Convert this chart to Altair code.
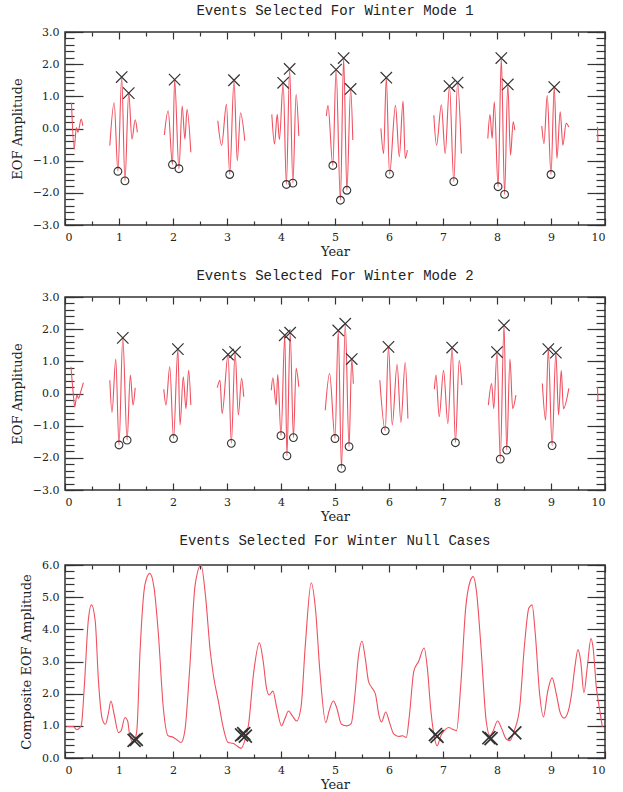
import altair as alt
import pandas as pd

# ---------------- data ----------------
# Mode 1: wave packets, (year, amplitude) turning points per packet
MODE1_PACKETS = [
    [(0.12, 0.80), (0.17, -0.64), (0.21, 0.03), (0.24, -0.12), (0.30, 0.29), (0.33, 0.08)],
    [(0.83, -0.53), (0.91, 0.80), (0.98, -1.33), (1.05, 1.60), (1.11, -1.63), (1.18, 1.10),
     (1.24, -0.33), (1.30, 0.27), (1.34, -0.12)],
    [(1.84, -0.20), (1.91, 0.55), (1.99, -1.12), (2.03, 1.52), (2.11, -1.25), (2.17, 0.70),
     (2.22, -0.33), (2.26, 0.60), (2.33, -0.74)],
    [(2.83, 0.24), (2.90, -0.53), (2.99, 0.75), (3.05, -1.43), (3.13, 1.50), (3.19, -1.00),
     (3.25, 0.49), (3.33, -0.38)],
    [(3.83, 0.44), (3.88, -0.48), (3.93, 0.44), (3.97, -0.35), (4.04, 1.42), (4.10, -1.74),
     (4.16, 1.85), (4.22, -1.70), (4.28, 1.06), (4.33, -0.23)],
    [(4.84, 0.39), (4.87, 0.72), (4.96, -1.15), (5.02, 1.83), (5.10, -2.23), (5.16, 2.19),
     (5.22, -1.92), (5.29, 1.23), (5.33, -0.36)],
    [(5.85, 0.00), (5.90, -0.78), (5.95, 1.58), (6.01, -1.42), (6.12, 0.72), (6.19, -0.88),
     (6.26, 0.85), (6.30, -0.93), (6.34, -0.67)],
    [(6.83, 0.41), (6.88, -0.52), (6.97, 0.74), (7.04, -0.78), (7.12, 1.32), (7.20, -1.65),
     (7.27, 1.43), (7.34, -0.78)],
    [(7.83, -0.31), (7.87, 0.43), (7.91, -0.31), (7.95, 0.83), (8.02, -1.81), (8.08, 2.19),
     (8.14, -2.05), (8.20, 1.37), (8.25, -0.83), (8.30, 0.21), (8.33, -0.05)],
    [(8.83, 0.08), (8.87, -0.47), (8.93, 1.03), (9.00, -1.43), (9.06, 1.29), (9.11, -0.93),
     (9.17, 0.52), (9.22, -0.52), (9.28, 0.16), (9.33, 0.05)],
    [(9.86, 0.05), (9.87, -0.40)],
]
MODE1_X_YEAR = [1.05, 1.18, 2.03, 3.13, 4.04, 4.16, 5.02, 5.16, 5.29, 5.95, 7.12, 7.27, 8.08, 8.20, 9.06]
MODE1_X_VAL = [1.60, 1.10, 1.52, 1.50, 1.42, 1.85, 1.83, 2.19, 1.23, 1.58, 1.32, 1.43, 2.19, 1.37, 1.29]
MODE1_O_YEAR = [0.98, 1.11, 1.99, 2.11, 3.05, 4.10, 4.22, 4.96, 5.10, 5.22, 6.01, 7.20, 8.02, 8.14, 9.00]
MODE1_O_VAL = [-1.33, -1.63, -1.12, -1.25, -1.43, -1.74, -1.70, -1.15, -2.23, -1.92, -1.42, -1.65, -1.81, -2.05, -1.43]

# Mode 2
MODE2_PACKETS = [
    [(0.11, 0.83), (0.15, 0.05), (0.18, -0.42), (0.22, -0.05), (0.25, -0.15), (0.29, 0.05), (0.34, 0.34)],
    [(0.83, 0.41), (0.87, -0.59), (0.94, 1.07), (1.00, -1.60), (1.07, 1.73), (1.15, -1.45),
     (1.21, 0.57), (1.26, -0.36), (1.30, 0.18)],
    [(1.83, 0.13), (1.87, -0.36), (1.94, 0.83), (2.01, -1.40), (2.09, 1.38), (2.13, -0.98),
     (2.19, 0.52), (2.24, -0.47), (2.29, 0.72), (2.33, -0.36)],
    [(2.82, 0.18), (2.87, 0.41), (2.91, -0.62), (3.02, 1.21), (3.08, -1.55), (3.15, 1.29),
     (3.21, -0.67), (3.27, 0.47), (3.31, -0.10)],
    [(3.82, 0.10), (3.85, 0.49), (3.91, -0.36), (3.94, 0.59), (4.00, -1.31), (4.07, 1.81),
     (4.11, -1.94), (4.17, 1.89), (4.23, -1.37), (4.28, 0.78), (4.33, 0.21)],
    [(4.82, -0.52), (4.90, 0.62), (5.00, -1.40), (5.06, 1.96), (5.12, -2.33), (5.19, 2.17),
     (5.26, -1.65), (5.31, 1.07), (5.34, 0.30)],
    [(5.83, 0.41), (5.93, -1.16), (5.99, 1.45), (6.06, -0.98), (6.15, 0.91), (6.22, -0.90),
     (6.30, 0.96), (6.35, -0.78)],
    [(6.84, 0.13), (6.87, 0.57), (6.93, -0.72), (7.01, 0.72), (7.09, -0.93), (7.17, 1.43),
     (7.23, -1.53), (7.30, 1.03), (7.35, 0.26)],
    [(7.84, -0.36), (7.90, 0.31), (7.94, -0.47), (8.00, 1.29), (8.06, -2.04), (8.13, 2.12),
     (8.18, -1.76), (8.24, 1.07), (8.29, -0.47), (8.35, -0.05)],
    [(8.84, 0.31), (8.90, -0.83), (8.95, 1.38), (9.02, -1.62), (9.09, 1.27), (9.14, -0.67),
     (9.19, 0.72), (9.23, -0.47), (9.33, 0.16)],
    [(9.86, 0.20), (9.87, -0.26)],
]
MODE2_X_YEAR = [1.07, 2.09, 3.02, 3.15, 4.07, 4.17, 5.06, 5.19, 5.31, 5.99, 7.17, 8.00, 8.13, 8.95, 9.09]
MODE2_X_VAL = [1.73, 1.38, 1.21, 1.29, 1.81, 1.89, 1.96, 2.17, 1.07, 1.45, 1.43, 1.29, 2.12, 1.38, 1.27]
MODE2_O_YEAR = [1.00, 1.15, 2.01, 3.08, 4.00, 4.11, 4.23, 5.00, 5.12, 5.26, 5.93, 7.23, 8.06, 8.18, 9.02]
MODE2_O_VAL = [-1.60, -1.45, -1.40, -1.55, -1.31, -1.94, -1.37, -1.40, -2.33, -1.65, -1.16, -1.53, -2.04, -1.76, -1.62]

# Null cases: composite amplitude curve
NULL_YEAR = [0.03, 0.15, 0.22, 0.30, 0.36, 0.43, 0.49, 0.56, 0.62, 0.69, 0.75, 0.80, 0.85, 0.91,
             0.99, 1.04, 1.11, 1.16, 1.20, 1.27, 1.33, 1.39, 1.48, 1.57, 1.65, 1.73, 1.82, 1.91,
             2.01, 2.09, 2.15, 2.22, 2.31, 2.41, 2.52, 2.60, 2.69, 2.75, 2.84, 2.93, 3.02, 3.12,
             3.18, 3.26, 3.33, 3.40, 3.49, 3.60, 3.67, 3.73, 3.78, 3.85, 3.92, 4.01, 4.07, 4.14,
             4.21, 4.29, 4.37, 4.45, 4.56, 4.64, 4.72, 4.83, 4.89, 4.97, 5.03, 5.12, 5.22, 5.30,
             5.37, 5.43, 5.50, 5.56, 5.62, 5.68, 5.75, 5.81, 5.86, 5.94, 6.01, 6.09, 6.18, 6.25,
             6.32, 6.38, 6.46, 6.55, 6.65, 6.71, 6.77, 6.83, 6.89, 6.96, 7.05, 7.11, 7.17, 7.25,
             7.33, 7.42, 7.50, 7.56, 7.62, 7.70, 7.80, 7.87, 7.93, 8.01, 8.09, 8.17, 8.24, 8.32,
             8.42, 8.51, 8.59, 8.65, 8.71, 8.79, 8.86, 8.94, 9.02, 9.10, 9.17, 9.24, 9.32, 9.38,
             9.44, 9.50, 9.55, 9.61, 9.67, 9.74, 9.78, 9.84, 9.91, 9.95]
NULL_VAL = [0.98, 0.98, 0.88, 1.00, 2.29, 4.25, 4.76, 4.25, 2.39, 1.21, 1.05, 1.36, 1.77, 1.36,
            0.79, 0.85, 1.26, 1.15, 0.69, 0.48, 0.85, 3.32, 5.38, 5.74, 5.28, 3.84, 1.57, 0.69,
            0.64, 0.54, 0.48, 0.85, 2.80, 5.38, 6.00, 5.07, 3.32, 2.55, 1.77, 0.95, 0.48, 0.45,
            0.38, 0.30, 0.54, 1.05, 2.60, 3.58, 3.01, 2.19, 1.96, 2.08, 1.57, 1.00, 1.21, 1.46,
            1.31, 1.15, 1.57, 3.50, 5.45, 4.60, 2.70, 1.10, 1.46, 1.77, 1.57, 1.05, 1.00, 1.07,
            1.98, 3.11, 3.63, 3.11, 2.39, 2.19, 1.98, 1.36, 1.12, 1.43, 1.10, 0.74, 0.67, 0.69,
            0.64, 1.36, 2.70, 3.01, 3.42, 2.80, 1.57, 0.74, 0.38, 0.69, 0.90, 0.95, 0.90, 0.85,
            2.29, 4.66, 5.48, 5.64, 5.18, 3.53, 1.15, 0.69, 0.85, 1.15, 0.90, 0.59, 0.54, 0.85,
            1.57, 3.53, 4.66, 4.76, 3.84, 1.98, 1.28, 2.08, 2.49, 1.98, 1.41, 1.24, 1.46, 1.98,
            2.80, 3.37, 3.01, 2.03, 2.80, 3.71, 3.42, 2.19, 1.41, 0.97]
NULL_X_YEAR = [1.28, 1.32, 3.27, 3.31, 3.34, 6.86, 6.89, 7.85, 7.89, 8.33]
NULL_X_VAL = [0.55, 0.58, 0.72, 0.76, 0.68, 0.73, 0.67, 0.63, 0.60, 0.78]

# tick labels
YEAR_TICKS = [0, 1, 2, 3, 4, 5, 6, 7, 8, 9, 10]
YEAR_MINOR = [0.5, 1.5, 2.5, 3.5, 4.5, 5.5, 6.5, 7.5, 8.5, 9.5]
EOF_TICKS = [-3.0, -2.0, -1.0, 0.0, 1.0, 2.0, 3.0]
NULL_TICKS = [0.0, 1.0, 2.0, 3.0, 4.0, 5.0, 6.0]
EOF_MINOR = [round(-3.0 + 0.2 * i, 1) for i in range(31)]
NULL_MINOR = [round(0.2 * i, 1) for i in range(31)]

# ---------------- build ----------------
W, H = 540, 193
RED = "#f0505f"
INK = "#333333"
FONT = "DejaVu Serif"
TFONT = "Liberation Mono"
XPATH = "M-1,-1L1,1M-1,1L1,-1"


def packets_df(packets):
    rows = []
    for i, p in enumerate(packets):
        for yr, v in p:
            rows.append({"year": yr, "val": v, "seg": i})
    return pd.DataFrame(rows)


def panel(line_df, xs_df, os_df, ydom, ymaj, ymin, title, ytitle, toff, xsize, xwidth):
    xs = alt.Scale(domain=[0, 10], nice=False, zero=False)
    ys = alt.Scale(domain=ydom, nice=False, zero=False)
    line = alt.Chart(line_df).mark_line(
        color=RED, strokeWidth=1.1, interpolate="monotone"
    ).encode(
        x=alt.X("year:Q", scale=xs, axis=alt.Axis(
            orient="bottom", values=YEAR_TICKS, format="d", ticks=False, domain=False,
            grid=False, labelPadding=6, title="Year", titlePadding=3,
            labelFont=FONT, titleFont=FONT, labelFontSize=11, titleFontSize=13,
            labelColor="#222222", titleColor="#222222", titleFontWeight="normal")),
        y=alt.Y("val:Q", scale=ys, axis=alt.Axis(
            orient="left", values=ymaj, format=".1f", ticks=False, domain=False,
            grid=False, labelPadding=6, title=ytitle, titlePadding=8,
            labelFont=FONT, titleFont=FONT, labelFontSize=11, titleFontSize=13,
            labelColor="#222222", titleColor="#222222", titleFontWeight="normal")),
        detail="seg:N",
    )

    def ticks(xo, yo, xv, yv, xl, yl):
        return alt.Chart(line_df).mark_point(opacity=0).encode(
            x=alt.X("year:Q", scale=xs, axis=alt.Axis(
                orient=xo, offset=-H, values=xv, tickSize=xl, labels=False,
                domain=False, grid=False, title="", tickColor=INK, tickWidth=1.2)),
            y=alt.Y("val:Q", scale=ys, axis=alt.Axis(
                orient=yo, offset=-W, values=yv, tickSize=yl, labels=False,
                domain=False, grid=False, title="", tickColor=INK, tickWidth=1.2)),
        )

    layers = [
        line,
        ticks("top", "right", YEAR_TICKS, ymaj, 7, 18),
        ticks("top", "right", YEAR_MINOR, ymin, 4, 9),
        ticks("bottom", "left", YEAR_TICKS, ymaj, 7, 18),
        ticks("bottom", "left", YEAR_MINOR, ymin, 4, 9),
    ]
    layers.append(alt.Chart(xs_df).mark_point(
        shape=XPATH, size=xsize, filled=False, stroke=INK, strokeWidth=xwidth, opacity=1
    ).encode(x=alt.X("year:Q", axis=None), y=alt.Y("val:Q", axis=None)))
    if os_df is not None:
        layers.append(alt.Chart(os_df).mark_point(
            shape="circle", size=60, filled=False, stroke=INK, strokeWidth=1.1, opacity=1
        ).encode(x=alt.X("year:Q", axis=None), y=alt.Y("val:Q", axis=None)))

    return alt.layer(*layers).resolve_axis(x="independent", y="independent").properties(
        width=W, height=H,
        title=alt.TitleParams(title, frame="group", offset=toff, fontSize=14,
                              font=TFONT, color="#222222", fontWeight="normal"),
    )


p1 = panel(packets_df(MODE1_PACKETS),
           pd.DataFrame({"year": MODE1_X_YEAR, "val": MODE1_X_VAL}),
           pd.DataFrame({"year": MODE1_O_YEAR, "val": MODE1_O_VAL}),
           [-3, 3], EOF_TICKS, EOF_MINOR,
           "Events Selected For Winter Mode 1", "EOF Amplitude", 8, 130, 1.2)
p2 = panel(packets_df(MODE2_PACKETS),
           pd.DataFrame({"year": MODE2_X_YEAR, "val": MODE2_X_VAL}),
           pd.DataFrame({"year": MODE2_O_YEAR, "val": MODE2_O_VAL}),
           [-3, 3], EOF_TICKS, EOF_MINOR,
           "Events Selected For Winter Mode 2", "EOF Amplitude", 8, 130, 1.2)
p3 = panel(pd.DataFrame({"year": NULL_YEAR, "val": NULL_VAL, "seg": 0}),
           pd.DataFrame({"year": NULL_X_YEAR, "val": NULL_X_VAL}),
           None,
           [0, 6], NULL_TICKS, NULL_MINOR,
           "Events Selected For Winter Null Cases", "Composite EOF Amplitude", 11, 170, 1.7)

chart = alt.vconcat(p1, p2, p3, spacing=9).properties(
    padding={"left": 10, "top": 3, "right": 10, "bottom": 0},
    background="white",
).configure_view(
    stroke=INK, strokeWidth=1.5
)

chart.save("out.html", embed_options={"renderer": "svg", "actions": False})
